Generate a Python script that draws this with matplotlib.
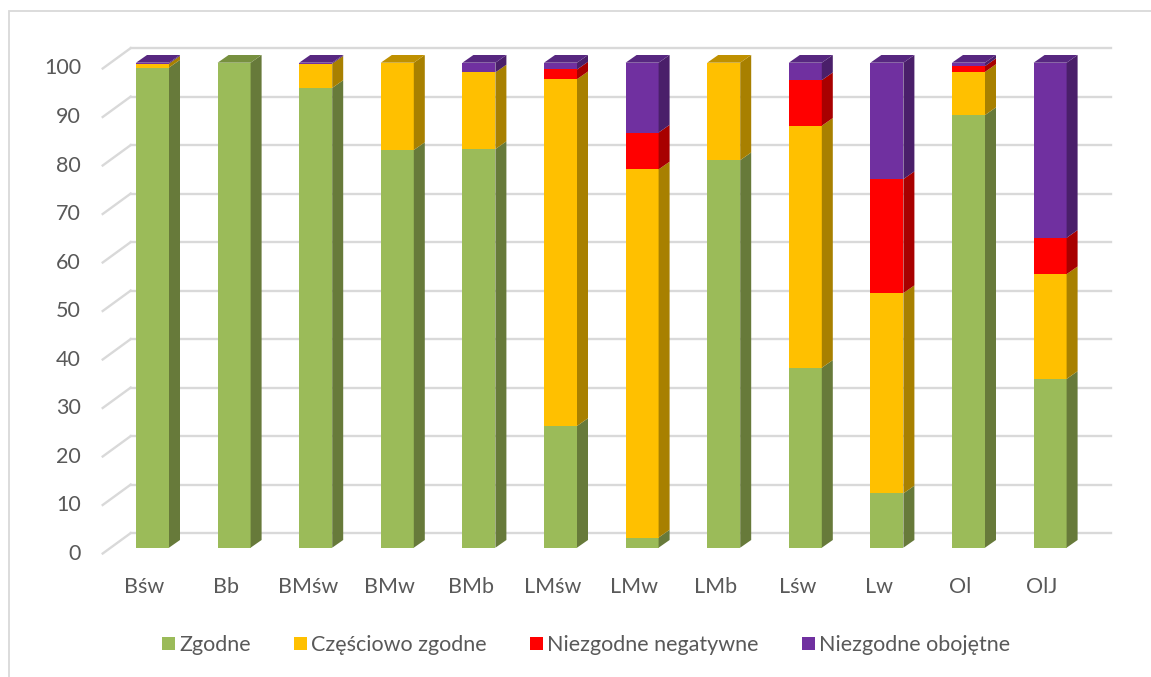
import matplotlib
matplotlib.use("Agg")
from matplotlib import pyplot as plt
from matplotlib.patches import Polygon, Rectangle
import numpy as np

plt.rcParams['font.family'] = ['Lato', 'DejaVu Sans']

# data
categories = ['Bśw', 'Bb', 'BMśw', 'BMw', 'BMb', 'LMśw', 'LMw', 'LMb', 'Lśw', 'Lw', 'Ol', 'OlJ']
series = ['Zgodne', 'Częściowo zgodne', 'Niezgodne negatywne', 'Niezgodne obojętne']
zgodne = [99.0, 100.0, 94.8, 82.0, 82.2, 25.1, 2.1, 79.9, 37.1, 11.2, 89.2, 34.8]
czesciowo = [0.8, 0.0, 5.0, 18.0, 15.8, 71.5, 75.9, 20.1, 49.9, 41.3, 8.9, 21.6]
negatywne = [0.0, 0.0, 0.0, 0.0, 0.0, 2.0, 7.6, 0.0, 9.4, 23.5, 1.2, 7.5]
obojetne = [0.2, 0.0, 0.2, 0.0, 2.0, 1.4, 14.4, 0.0, 3.6, 24.0, 0.7, 36.1]
yticks = [0, 10, 20, 30, 40, 50, 60, 70, 80, 90, 100]

front = ['#9BBB59', '#FFC000', '#FF0000', '#7030A0']
side = ['#677A3A', '#A88000', '#A80000', '#4A1F6A']
top = ['#77903F', '#BF9000', '#C00000', '#572780']
text_col = '#595959'
grid_col = '#D9D9D9'

W, H = 1151, 677
fig = plt.figure(figsize=(W / 100, H / 100), dpi=100)
ax = fig.add_axes([0, 0, 1, 1])

# pixel layout of the front plane of the bars
x0, xstep = 152.5, 81.6
y0, ystep = 547.7, 4.85
ax.set_xlim(-x0 / xstep, (W - x0) / xstep)
ax.set_ylim(-(H - y0) / ystep, y0 / ystep)
ax.axis('off')

def px(dx):
    return dx / xstep

def py(dy):
    return dy / ystep

# 3d depth of a bar
bw = px(33)
ddx, ddy = px(11), py(7.7)

# back wall gridlines + slanted side lines
wall_l, wall_r = px(130.7 - x0), px(1110.7 - x0)
back_dy, floor_dy = py(14.6), py(-5.8)
for v in yticks:
    ax.plot([wall_l, wall_r], [v + back_dy, v + back_dy], color=grid_col, lw=1.7, zorder=1)
    ax.plot([px(102.7 - x0), wall_l], [v + floor_dy, v + back_dy], color=grid_col, lw=1.7, zorder=1)
    ax.text(px(81 - x0), v + floor_dy, str(v), ha='right', va='center',
            fontsize=15.5, color=text_col)

x = np.arange(len(categories))
data = [zgodne, czesciowo, negatywne, obojetne]
bottom = np.zeros(len(categories))
bars = []
for k, vals in enumerate(data):
    vals = np.array(vals)
    b = ax.bar(x, vals, width=bw, bottom=bottom, color=front[k], linewidth=0,
               label=series[k], zorder=3)
    bars.append(b)
    for i in range(len(categories)):
        if vals[i] <= 0:
            continue
        xr = x[i] + bw / 2
        lo, hi = bottom[i], bottom[i] + vals[i]
        ax.add_patch(Polygon([(xr, lo), (xr + ddx, lo + ddy), (xr + ddx, hi + ddy), (xr, hi)],
                             closed=True, facecolor=side[k], linewidth=0, zorder=3))
    bottom = bottom + vals

# top face coloured by the highest non-empty segment
for i in range(len(categories)):
    k = max(j for j in range(4) if data[j][i] > 0)
    xl, xr = x[i] - bw / 2, x[i] + bw / 2
    t = bottom[i]
    ax.add_patch(Polygon([(xl, t), (xl + ddx, t + ddy), (xr + ddx, t + ddy), (xr, t)],
                         closed=True, facecolor=top[k], linewidth=0, zorder=3))

for i, c in enumerate(categories):
    ax.text(x[i] - px(8), py(547.7 - 587), c, ha='center', va='center',
            fontsize=15.5, color=text_col)

leg = fig.legend(handles=bars, labels=series, loc='center', ncol=4,
                 bbox_to_anchor=(586 / W, 1 - 645 / H), frameon=False,
                 fontsize=15.5, handlelength=0.6, handleheight=0.6,
                 handletextpad=0.2, columnspacing=2.0, borderaxespad=0)
for t in leg.get_texts():
    t.set_color(text_col)

# chart border
ax.add_patch(Rectangle((px(9 - x0), py(y0 - 680)), px(1200), py(680 - 11),
                       fill=False, edgecolor=grid_col, lw=1.3, zorder=0))

fig.savefig('out.png', dpi=100)
